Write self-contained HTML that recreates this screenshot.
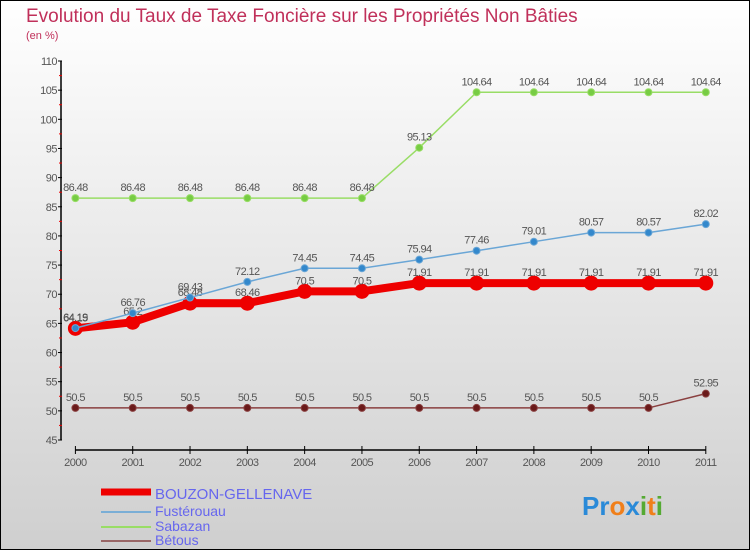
<!DOCTYPE html>
<html><head><meta charset="utf-8"><style>
body{margin:0;}
svg{display:block;font-family:"Liberation Sans",sans-serif;}
</style></head><body>
<svg width="750" height="550" xmlns="http://www.w3.org/2000/svg" id="chart">
<defs><linearGradient id="bg" x1="0" y1="0" x2="0" y2="1"><stop offset="0" stop-color="#ffffff"/><stop offset="1" stop-color="#cfcfcf"/></linearGradient></defs>
<rect x="0.5" y="0.5" width="749" height="549" fill="url(#bg)" stroke="#000"/>
<text x="26" y="22" font-size="19" fill="#c0305a">Evolution du Taux de Taxe Foncière sur les Propriétés Non Bâties</text>
<text x="26" y="39" font-size="11" fill="#c0305a">(en %)</text>
<g id="axes"></g><g id="series"></g>
<g>
<line x1="101" y1="492" x2="151" y2="492" stroke="#ee0000" stroke-width="7"/>
<text x="155" y="499" font-size="15" fill="#6666ee">BOUZON-GELLENAVE</text>
<line x1="101" y1="512" x2="151" y2="512" stroke="#7aaed6" stroke-width="2"/>
<text x="155" y="516" font-size="14" fill="#6666ee">Fustérouau</text>
<line x1="101" y1="527" x2="151" y2="527" stroke="#99dd66" stroke-width="2"/>
<text x="155" y="531" font-size="14" fill="#6666ee">Sabazan</text>
<line x1="101" y1="541" x2="151" y2="541" stroke="#996666" stroke-width="2"/>
<text x="155" y="545" font-size="14" fill="#6666ee">Bétous</text>
</g>
<g font-size="26" font-weight="bold">
<text x="582" y="515"><tspan fill="#2a8ad8">Pr</tspan><tspan fill="#f07f1a">o</tspan><tspan fill="#2a8ad8">x</tspan><tspan fill="#55aa33">i</tspan><tspan fill="#f07f1a">t</tspan><tspan fill="#55aa33">i</tspan></text>
</g>
</svg>
<script>
const years=[2000,2001,2002,2003,2004,2005,2006,2007,2008,2009,2010,2011];
const yTicks=[45,50,55,60,65,70,75,80,85,90,95,100,105,110];
const bouzon=[64.15,65.2,68.48,68.46,70.5,70.5,71.91,71.91,71.91,71.91,71.91,71.91];
const fusterouau=[64.19,66.76,69.43,72.12,74.45,74.45,75.94,77.46,79.01,80.57,80.57,82.02];
const sabazan=[86.48,86.48,86.48,86.48,86.48,86.48,95.13,104.64,104.64,104.64,104.64,104.64];
const betous=[50.5,50.5,50.5,50.5,50.5,50.5,50.5,50.5,50.5,50.5,50.5,52.95];
const NS="http://www.w3.org/2000/svg";
function xS(i){return 75.4+i*(705.8-75.4)/(years.length-1);}
function yS(v){return 440-(v-45)*(379/65);}
function mk(t,a,p){const e=document.createElementNS(NS,t);for(const k in a)e.setAttribute(k,a[k]);p.appendChild(e);return e;}
const ax=document.getElementById('axes');
let yl=mk('line',{x1:61,y1:yS(110),x2:61,y2:yS(45),stroke:'#000','stroke-width':1.5},ax);


yTicks.forEach((v,k)=>{
 mk('line',{x1:58,y1:yS(v),x2:62,y2:yS(v),stroke:'#000'},ax);
 if(k<yTicks.length-1) mk('line',{x1:59,y1:yS(v+2.5),x2:62,y2:yS(v+2.5),stroke:'#e00'},ax);
 const t=mk('text',{x:57,y:yS(v)+4,'font-size':11,fill:'#555','text-anchor':'end','letter-spacing':'-0.5'},ax);
 t.textContent=v;
 
 
});
let xl=mk('line',{x1:xS(0),y1:450,x2:xS(11),y2:450,stroke:'#000','stroke-width':1.5},ax);


years.forEach((y,i)=>{
 mk('line',{x1:xS(i),y1:446,x2:xS(i),y2:454,stroke:'#000'},ax);
 const t=mk('text',{x:xS(i),y:466,'font-size':11,fill:'#555','text-anchor':'middle','letter-spacing':'-0.5'},ax);
 t.textContent=y;
 
 
});
const sg=document.getElementById('series');
function draw(vals,color,w,r,dot,name){
 const g=mk('g',{},sg);
 
 
 const pl=mk('polyline',{points:vals.map((v,i)=>xS(i)+','+yS(v)).join(' '),fill:'none',stroke:color,'stroke-width':w,'stroke-linejoin':'round'},g);
 
 
 vals.forEach((v,i)=>{
  const c=mk('circle',{cx:xS(i),cy:yS(v),r:r,fill:dot,stroke:color,'stroke-width':1},g);
  
  
  const t=mk('text',{x:xS(i),y:yS(v)-7,'font-size':11,fill:'#555','text-anchor':'middle','letter-spacing':'-0.6'},g);
  t.textContent=v;
  
  
 });
}
draw(sabazan,'#99dd66',1.5,3.5,'#77cc44','sabazan');
draw(betous,'#8a4040',1.5,3.5,'#6a1a1a','betous');
draw(bouzon,'#ee0000',8,7,'#ee0000','bouzon');
draw(fusterouau,'#6aa6d6',1.5,3.5,'#3388cc','fusterouau');
</script>
</body></html>
